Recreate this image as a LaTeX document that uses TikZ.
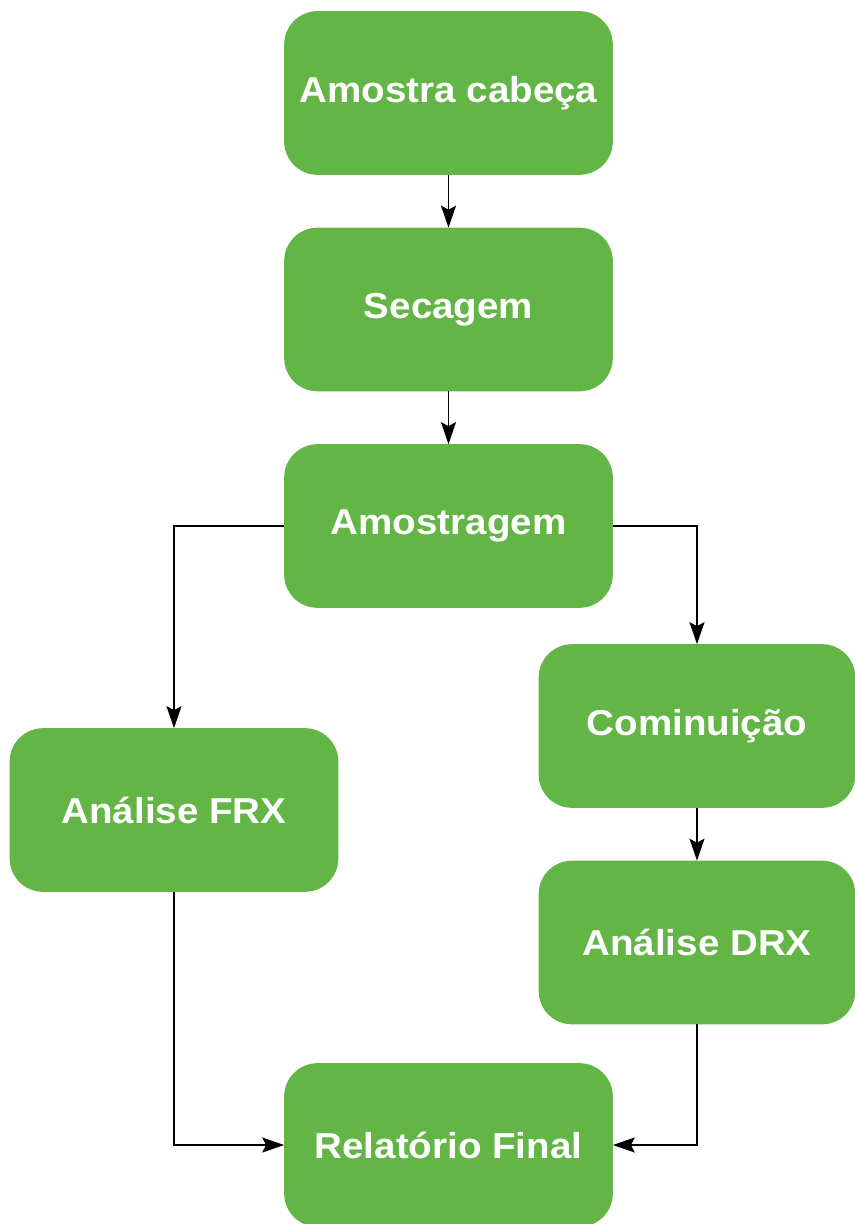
\documentclass[tikz,border=0pt]{standalone}
\usepackage{fontspec}
\newfontfamily\boxfont{Liberation Sans}[FakeStretch=1.07]
\usetikzlibrary{arrows.meta}
\usetikzlibrary{arrows,positioning}
\definecolor{stepgreen}{HTML}{63B546}
\tikzset{%
  >={Stealth[width=3mm,length=4.4mm,inset=0.8mm]},
  % Specifications for style of nodes:
         base/.style = {rectangle, rounded corners=0.65cm, draw=stepgreen,
                        minimum width=6.54cm, minimum height=3.24cm,
                        text centered, text=white,
                        font=\boxfont\bfseries\fontsize{20.5}{24}\selectfont},
      process/.style = {base, fill=stepgreen},
  processside/.style = {process, minimum width=6.3cm},
}

\begin{document}
\begin{tikzpicture}[node distance=4.33cm, line width=0.95pt]
\useasboundingbox (-8.97,1.86) rectangle (8.13,-22.62);

\node (Amostra)     [process]                          {Amostra cabeça};

\node (Secagem)     [process, below of=Amostra]        {Secagem};

\node (Amostragem)  [process, below of=Secagem]        {Amostragem};

\node (FRX)         [process, below of=Amostragem,
                     xshift=-5.49cm, yshift=-1.35cm]   {Análise FRX};

\node (Cominuicao)  [processside, below of=Amostragem,
                     xshift=4.97cm, yshift=0.33cm]     {Cominuição};

\node (DRX)         [processside, below of=Cominuicao] {Análise DRX};

\node (Relatorio)   [process, below of=Amostragem,
                     yshift=-8.05cm]                   {Relatório Final};

\draw[->]             (Amostra) -- (Secagem);
\draw[->]             (Secagem) -- (Amostragem);
\draw[->]             (Amostragem) -| (FRX);
\draw[->]             (Amostragem) -| (Cominuicao);
\draw[->]             (Cominuicao) -- (DRX);
\draw[->]             (FRX) |- (Relatorio);
\draw[->]             (DRX) |- (Relatorio);
  \end{tikzpicture}
\end{document}
